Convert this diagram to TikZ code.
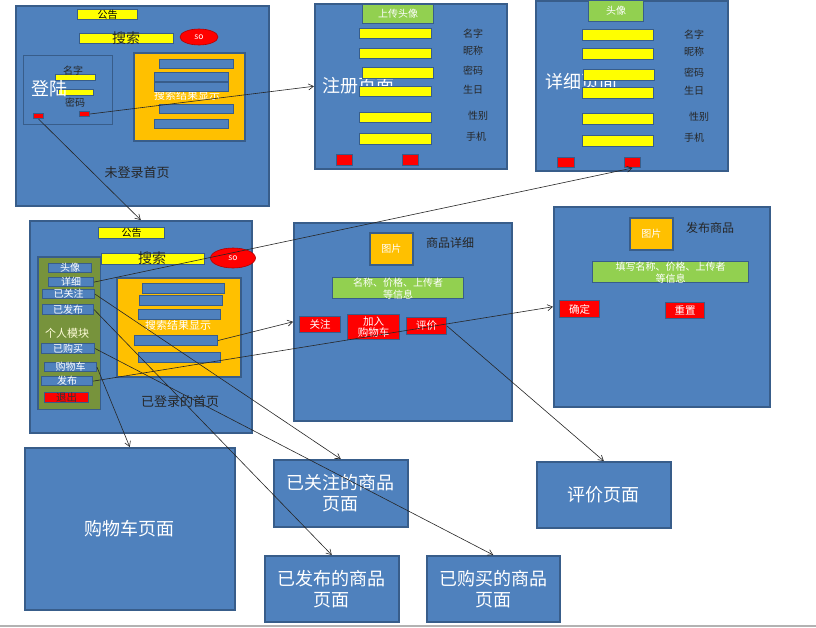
\documentclass[tikz,border=0pt]{standalone}
\usepackage{fontspec}
\setmainfont{Noto Sans CJK SC}
\usetikzlibrary{arrows.meta,shapes.geometric}
\definecolor{pgblue}{HTML}{4F81BD}
\definecolor{pgedge}{HTML}{385D8A}
\definecolor{ylw}{HTML}{FFFF00}
\definecolor{org}{HTML}{FFC000}
\definecolor{grn}{HTML}{92D050}
\definecolor{olv}{HTML}{77933C}
\newcommand\myfs[2][]{\fontsize{#2}{\ifx&#1&#2\else#1\fi}\selectfont}
\newcommand\bx[7]{\node[#2,anchor=north west,minimum width={(#5)-(#3)},minimum height={(#6)-(#4)}] (#1) at (#3,-#4) {#7};}
\tikzset{
  pagebox/.style={draw=pgedge,fill=pgblue,line width=1.5pt,inner sep=0pt,text=white,font=\myfs[21]{18},align=center},
  loginbox/.style={draw=pgedge,fill=pgblue,line width=1.2pt,inner sep=0pt},
  ybar/.style={draw=pgedge,fill=ylw,line width=1pt,inner sep=0pt,text=black,font=\myfs{10},align=center},
  bbar/.style={draw=pgedge,fill=pgblue,line width=1pt,inner sep=0pt,text=white,font=\myfs{10},align=center},
  obox/.style={draw=pgedge,fill=org,line width=1.5pt,inner sep=0pt,text=white,font=\myfs{10},align=center},
  gbtn/.style={draw=pgedge,fill=grn,line width=1.2pt,inner sep=0pt,text=white,font=\myfs[12]{10},align=center},
  rbtn/.style={draw=pgedge,fill=red,line width=1pt,inner sep=0pt,text=white,font=\myfs[11]{10.5},align=center},
  lbl/.style={inner sep=0pt,text=black!85,font=\myfs{10},align=center},
  wlbl/.style={inner sep=0pt,text=white,font=\myfs{18},anchor=west},
  sobtn/.style={ellipse,fill=red,draw=red!70!black,line width=0.6pt,inner sep=0pt,text=white,font=\myfs{8.5}},
  conn/.style={draw=black!85,line width=0.6pt,-{Straight Barb[length=5pt,width=6pt]}}
}
\begin{document}
\begin{tikzpicture}[x=1pt,y=1pt]
\useasboundingbox (0,0) rectangle (816,-627);
\fill[white] (0,0) rectangle (816,-627);
\draw[gray!60,line width=1.5pt] (0,-626) -- (816,-626);

% ===== 未登录首页 =====
\bx{home}{pagebox}{15}{5}{268}{205}{}
\bx{hNotice}{ybar}{77}{9}{137}{19}{公告}
\bx{hSearch}{ybar}{79}{33}{173}{43}{}
\node[lbl,font=\myfs{14}] (hSearchT) at (126,-38) {搜索};
\node[sobtn,minimum width=38,minimum height=16] (hSo) at (199,-37) {so};
\bx{login}{loginbox}{23}{55}{112}{124}{}
\bx{hName}{ybar}{55}{74}{95}{80}{}
\bx{hPwd}{ybar}{58}{89}{93}{95}{}
\node[lbl] (hNameT) at (73,-71) {名字};
\node[lbl] (hPwdT) at (75,-103) {密码};
\node[wlbl] (loginT) at (31,-89) {登陆};
\bx{loginL}{rbtn}{33}{113}{43}{118}{}
\bx{loginR}{rbtn}{79}{111}{89}{116}{}
\bx{hRes}{obox}{133}{52}{244}{140}{}
\node[lbl,text=white,font=\myfs{11}] (hResT) at (187,-95) {搜索结果显示};
\bx{hR1}{bbar}{159}{59}{233}{68}{}
\bx{hR2}{bbar}{154}{72}{228}{81}{}
\bx{hR3}{bbar}{154}{82}{228}{91}{}
\bx{hR4}{bbar}{159}{104}{233}{113}{}
\bx{hR5}{bbar}{154}{119}{228}{128}{}
\node[lbl,font=\myfs{13}] (homeT) at (137,-173) {未登录首页};

% ===== 注册页面 =====
\bx{reg}{pagebox}{314}{3}{506}{168}{}
\node[wlbl] (regT) at (322,-86) {注册页面};
\bx{regUp}{gbtn}{362}{4}{433}{23}{上传头像}
\bx{rY1}{ybar}{359}{28}{431}{38}{}
\bx{rY2}{ybar}{359}{48}{431}{58}{}
\bx{rY3}{ybar}{362}{67}{433}{78}{}
\bx{rY4}{ybar}{359}{86}{431}{96}{}
\bx{rY5}{ybar}{359}{112}{431}{122}{}
\bx{rY6}{ybar}{359}{133}{431}{144}{}
\node[lbl] at (473,-34) {名字};
\node[lbl] at (473,-51) {昵称};
\node[lbl] at (473,-71) {密码};
\node[lbl] at (473,-90) {生日};
\node[lbl] at (478,-116) {性别};
\node[lbl] at (476,-137) {手机};
\bx{regL}{rbtn}{336}{154}{352}{165}{}
\bx{regR}{rbtn}{402}{154}{418}{165}{}

% ===== 详细页面 =====
\bx{det}{pagebox}{535}{0}{727}{170}{}
\node[wlbl] (detT) at (545,-82) {详细页面};
\bx{detHead}{gbtn}{588}{0}{643}{21}{头像}
\bx{dY1}{ybar}{582}{29}{653}{40}{}
\bx{dY2}{ybar}{582}{48}{653}{59}{}
\bx{dY3}{ybar}{583}{69}{654}{80}{}
\bx{dY4}{ybar}{582}{87}{653}{98}{}
\bx{dY5}{ybar}{582}{113}{653}{124}{}
\bx{dY6}{ybar}{582}{135}{653}{146}{}
\node[lbl] at (694,-35) {名字};
\node[lbl] at (694,-52) {昵称};
\node[lbl] at (694,-73) {密码};
\node[lbl] at (694,-91) {生日};
\node[lbl] at (699,-117) {性别};
\node[lbl] at (694,-138) {手机};
\bx{dL}{rbtn}{557}{157}{574}{167}{}
\bx{dR}{rbtn}{624}{157}{640}{167}{}

% ===== 已登录的首页 =====
\bx{logged}{pagebox}{29}{220}{251}{432}{}
\bx{lNotice}{ybar}{98}{227}{164}{238}{公告}
\bx{lSearch}{ybar}{101}{253}{204}{264}{}
\node[lbl,font=\myfs{14}] (lSearchT) at (152,-258) {搜索};
\node[sobtn,minimum width=45,minimum height=20] (lSo) at (233,-258) {so};
\bx{panel}{loginbox}{38}{257}{99}{408}{}
\fill[olv] (panel.north west) rectangle (panel.south east);
\draw[pgedge,line width=1.2pt] (panel.north west) rectangle (panel.south east);
\bx{bHead}{bbar}{48}{263}{91}{272}{头像}
\bx{bDetail}{bbar}{48}{277}{93}{285}{详细}
\bx{bFollow}{bbar}{42}{289}{94}{298}{已关注}
\bx{bPub}{bbar}{42}{304}{93}{314}{已发布}
\node[lbl,text=white!85!yellow,font=\myfs{11}] (panelT) at (67,-333) {个人模块};
\bx{bBought}{bbar}{41}{343}{94}{353}{已购买}
\bx{bCart}{bbar}{44}{362}{96}{371}{购物车}
\bx{bRelease}{bbar}{41}{376}{92}{385}{发布}
\bx{bQuit}{rbtn}{44}{392}{88}{401}{\textcolor{black!80}{退出}}
\bx{lRes}{obox}{116}{277}{240}{376}{}
\node[lbl,text=white,font=\myfs{11}] (lResT) at (178,-325) {搜索结果显示};
\bx{lR1}{bbar}{142}{283}{224}{293}{}
\bx{lR2}{bbar}{139}{295}{222}{305}{}
\bx{lR3}{bbar}{138}{309}{220}{319}{}
\bx{lR4}{bbar}{134}{335}{217}{345}{}
\bx{lR5}{bbar}{138}{352}{220}{362}{}
\node[lbl,font=\myfs{13}] (loggedT) at (180,-402) {已登录的首页};

% ===== 商品详细 =====
\bx{prod}{pagebox}{293}{222}{511}{420}{}
\bx{pImg}{obox}{369}{232}{412}{264}{图片}
\node[lbl,font=\myfs{12}] (prodT) at (450,-243) {商品详细};
\bx{pInfo}{gbtn}{332}{277}{463}{297}{名称、价格、上传者\\等信息}
\bx{pFollow}{rbtn}{299}{316}{340}{332}{关注}
\bx{pCart}{rbtn}{347}{314}{399}{339}{加入\\购物车}
\bx{pEval}{rbtn}{406}{317}{446}{334}{评价}

% ===== 发布商品 =====
\bx{pub}{pagebox}{553}{206}{769}{406}{}
\bx{uImg}{obox}{629}{217}{672}{249}{图片}
\node[lbl,font=\myfs{12}] (pubT) at (710,-228) {发布商品};
\bx{uInfo}{gbtn}{592}{261}{748}{281}{填写名称、价格、上传者\\等信息}
\bx{uOk}{rbtn}{559}{300}{599}{317}{确定}
\bx{uReset}{rbtn}{665}{302}{704}{318}{重置}

% ===== bottom pages =====
\bx{cartPg}{pagebox}{24}{447}{234}{609}{购物车页面}
\bx{followPg}{pagebox}{273}{459}{407}{526}{已关注的商品\\页面}
\bx{pubPg}{pagebox}{264}{555}{398}{621}{已发布的商品\\页面}
\bx{evalPg}{pagebox}{536}{461}{670}{527}{评价页面}
\bx{boughtPg}{pagebox}{426}{555}{559}{621}{已购买的商品\\页面}

% ===== connectors =====
\draw[conn] (loginR.east) -- (reg.west);
\draw[conn] (loginL.south) -- (logged.north);
\draw[conn] (bDetail.east) -- (dR.south);
\draw[conn] (lR4.east) -- (prod.west);
\draw[conn] (bRelease.east) -- (pub.west);
\draw[conn] (pEval.east) -- (evalPg.north);
\draw[conn] (bCart.east) -- (cartPg.north);
\draw[conn] (bFollow.east) -- (followPg.north);
\draw[conn] (bPub.east) -- (pubPg.north);
\draw[conn] (bBought.east) -- (boughtPg.north);
\end{tikzpicture}
\end{document}
